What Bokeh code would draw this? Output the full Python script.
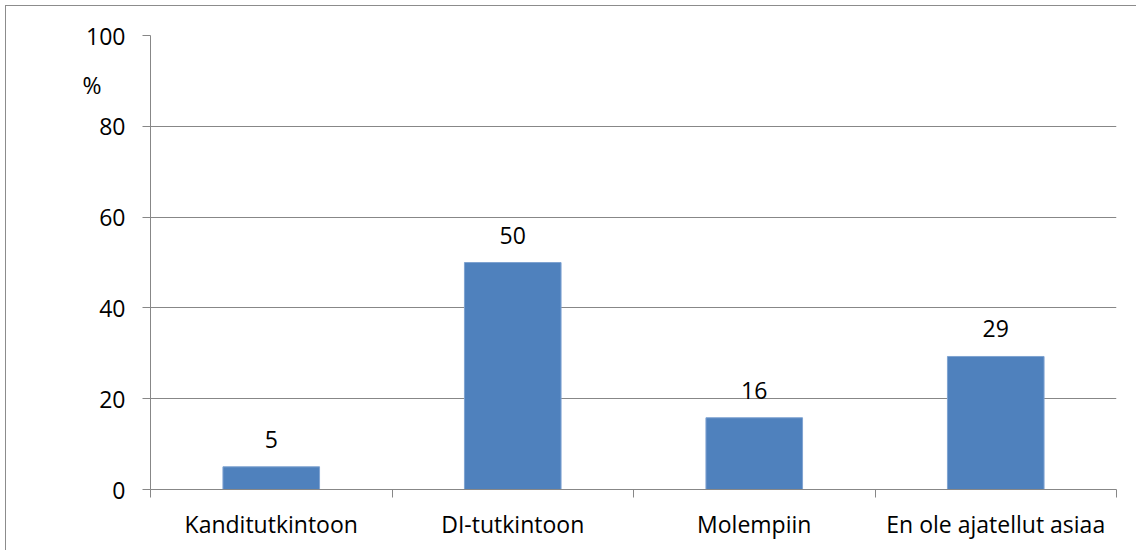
from bokeh.plotting import figure
from bokeh.models import ColumnDataSource, FixedTicker, LabelSet, Range1d
from bokeh.core.properties import value
from bokeh.embed import file_html
from bokeh.resources import INLINE

categories = ["Kanditutkintoon", "DI-tutkintoon", "Molempiin", "En ole ajatellut asiaa"]
values = [5.0, 50.0, 15.8, 29.3]
labels = ["5", "50", "16", "29"]
y_ticks = [0, 20, 40, 60, 80, 100]
unit_label = "%"
unit_pos = 89.2

FONT = "Open Sans"
FS = "23px"
GRID = "#878787"

xpos = [i + 0.5 for i in range(len(categories))]
src = ColumnDataSource(dict(x=xpos, top=values, lab=labels))

p = figure(width=1131, height=545, output_backend="svg", toolbar_location=None,
           x_range=Range1d(0, len(categories)), y_range=Range1d(0, 100),
           min_border_left=144, min_border_top=29, min_border_right=21, min_border_bottom=62)
p.outline_line_color = None
p.background_fill_color = "white"
p.border_fill_color = "white"
p.styles = {"border-left": "1px solid #8c8c8c", "border-top": "1px solid #8c8c8c",
            "margin-left": "5px", "margin-top": "5px"}

p.vbar(x="x", top="top", width=0.4, bottom=0, source=src,
       fill_color="#4F81BD", line_color="#7FA3D1", line_width=1)

ls = LabelSet(x="x", y="top", text="lab", source=src, text_align="center",
              text_baseline="alphabetic", y_offset=19, text_font=value(FONT),
              text_font_size=FS, text_color="black")
p.add_layout(ls)

# x axis: labels at category centres, tick marks at category boundaries
xt = FixedTicker(ticks=xpos, minor_ticks=list(range(len(categories) + 1)))
p.xaxis.ticker = xt
p.xaxis.major_label_overrides = {x: c for x, c in zip(xpos, categories)}
p.xaxis.major_tick_line_color = None
p.xaxis.major_tick_out = 0
p.xaxis.major_tick_in = 0
p.xaxis.minor_tick_out = 8
p.xaxis.minor_tick_in = 0
p.xaxis.minor_tick_line_color = GRID
p.xaxis.axis_line_color = GRID
p.xaxis.major_label_text_font = FONT
p.xaxis.major_label_text_font_size = FS
p.xaxis.major_label_text_color = "black"
p.xaxis.major_label_standoff = 10

# y axis: numeric labels plus the unit label "%"
p.yaxis.ticker = FixedTicker(ticks=y_ticks + [unit_pos], minor_ticks=y_ticks)
p.yaxis.major_label_overrides = {unit_pos: unit_label + "\u00a0" * 4}
p.yaxis.major_tick_out = 8
p.yaxis.major_tick_in = 0
p.yaxis.major_tick_line_color = None
p.yaxis.minor_tick_out = 8
p.yaxis.minor_tick_in = 0
p.yaxis.minor_tick_line_color = GRID
p.yaxis.axis_line_color = GRID
p.yaxis.major_label_text_font = FONT
p.yaxis.major_label_text_font_size = FS
p.yaxis.major_label_text_color = "black"
p.yaxis.major_label_standoff = 17

p.xgrid.grid_line_color = None
p.ygrid.ticker = FixedTicker(ticks=y_ticks)
p.ygrid.grid_line_color = GRID
p.ygrid.grid_line_width = 1

open("out.html", "w").write(file_html(p, INLINE))
